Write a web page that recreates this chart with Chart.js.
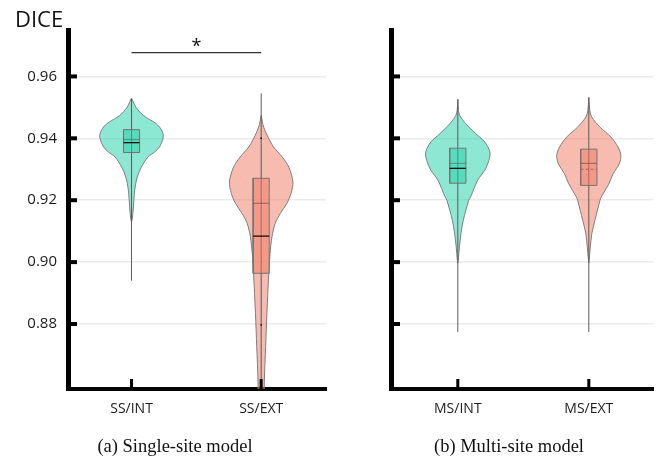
<!DOCTYPE html>
<html>
<head>
<meta charset="utf-8">
<script src="https://cdn.jsdelivr.net/npm/chart.js@4.4.1/dist/chart.umd.min.js"></script>
<style>
  body { margin: 0; background: #fff; }
  #wrap { position: relative; width: 662px; height: 460px; overflow: hidden; }
  canvas { position: absolute; top: 0; }
  #left { left: 0; }
  #right { left: 330px; }
  .ylab { position: absolute; left: 15px; top: 7px; font: 22px/22px "Open Sans", sans-serif; color: #111; }
  .cap { position: absolute; top: 435px; width: 240px; text-align: center; font: 18.5px/22px "Liberation Serif", serif; color: #111; }
</style>
</head>
<body>
<div id="wrap">
  <canvas id="left" width="330" height="460"></canvas>
  <canvas id="right" width="332" height="460"></canvas>
  <div class="ylab">DICE</div>
  <div class="cap" style="left:55px">(a) Single-site model</div>
  <div class="cap" style="left:389px">(b) Multi-site model</div>
</div>
<script>
// categories and tick values
const catsSingle = ['SS/INT', 'SS/EXT'];
const catsMulti = ['MS/INT', 'MS/EXT'];
const yTicks = [0.88, 0.90, 0.92, 0.94, 0.96];

// violin outlines: DICE value and relative density (1 = widest)
const ssIntY = [0.9530, 0.9510, 0.9500, 0.9474, 0.9447, 0.9428, 0.9410, 0.9395, 0.9372, 0.9355, 0.9340, 0.9307, 0.9275, 0.9232, 0.9178, 0.9140, 0.9130];
const ssIntD = [0, 0.09, 0.14, 0.37, 0.78, 0.94, 1.0, 0.98, 0.88, 0.72, 0.52, 0.31, 0.18, 0.10, 0.06, 0.025, 0];
const ssExtY = [0.9474, 0.9436, 0.9399, 0.9372, 0.9340, 0.9307, 0.9259, 0.9222, 0.9190, 0.9157, 0.9125, 0.9082, 0.9028, 0.8964, 0.8834, 0.8727, 0.8619, 0.8500, 0.8450];
const ssExtD = [0, 0.08, 0.24, 0.39, 0.66, 0.87, 1.0, 0.94, 0.81, 0.60, 0.44, 0.34, 0.28, 0.24, 0.18, 0.14, 0.10, 0.08, 0];
const msIntY = [0.9526, 0.9490, 0.9474, 0.9447, 0.9415, 0.9388, 0.9356, 0.9329, 0.9297, 0.9265, 0.9211, 0.9200, 0.9135, 0.9093, 0.9049, 0.9006, 0.8997];
const msIntD = [0, 0.02, 0.06, 0.25, 0.56, 0.84, 1.0, 0.97, 0.84, 0.62, 0.40, 0.34, 0.17, 0.10, 0.05, 0.015, 0];
const msExtY = [0.9532, 0.9490, 0.9469, 0.9436, 0.9404, 0.9372, 0.9345, 0.9318, 0.9286, 0.9254, 0.9211, 0.9200, 0.9135, 0.9093, 0.9049, 0.9006, 0.8997];
const msExtD = [0, 0.03, 0.09, 0.35, 0.69, 0.91, 1.0, 0.95, 0.76, 0.63, 0.39, 0.35, 0.19, 0.095, 0.047, 0.01, 0];

// box plot statistics, one value per category
const q1SS = [0.9354, 0.8964];
const q3SS = [0.9428, 0.9271];
const lineASS = [0.9386, 0.9084];
const lineBSS = [0.9396, 0.9190];
const whiskLoSS = [0.8940, 0.8450];
const whiskHiSS = [0.9528, 0.9545];
const q1MS = [0.9255, 0.9248];
const q3MS = [0.9368, 0.9365];
const lineAMS = [0.9303, 0.9319];
const lineBMS = [0.9319, 0.9300];
const whiskLoMS = [0.8774, 0.8774];
const whiskHiMS = [0.9526, 0.9532];

// small marks on the SS/EXT whisker
const marksSSExt = [0.9400, 0.8797];

// significance bracket between SS/INT and SS/EXT
const sigLevel = 0.9677;
const sigText = '*';

const VIOLIN_HALF = 0.245;
const BOX_HALF = 0.062;
const TEAL = 'rgba(27, 209, 167, 0.5)';
const SALMON = 'rgba(241, 119, 97, 0.5)';

Chart.defaults.font.family = "'Open Sans', sans-serif";
Chart.defaults.animation = false;

function violinPoints(c, ys, ds) {
  const right = ys.map((y, k) => ({ x: c + ds[k] * VIOLIN_HALF, y: y }));
  const left = ys.map((y, k) => ({ x: c - ds[k] * VIOLIN_HALF, y: y })).reverse();
  return right.concat(left);
}

function seg(points, color, width, order, dash) {
  return { data: points, showLine: true, fill: false, borderColor: color, borderWidth: width,
           borderDash: dash || [], pointRadius: 0, tension: 0, order: order };
}

function buildSets(violins, stats, lineStyles) {
  const sets = [];
  violins.forEach((v, i) => {
    sets.push({ data: violinPoints(i, v.y, v.d), showLine: true, fill: 'shape',
                backgroundColor: v.color, borderColor: '#7d7d7d', borderWidth: 1,
                pointRadius: 0, tension: 0.3, order: 6 });
    sets.push(seg([{ x: i, y: stats.lo[i] }, { x: i, y: stats.hi[i] }], '#5a5a5a', 1, 5));
    const a = i - BOX_HALF, b = i + BOX_HALF;
    sets.push({ data: [{ x: a, y: stats.q1[i] }, { x: b, y: stats.q1[i] }, { x: b, y: stats.q3[i] },
                       { x: a, y: stats.q3[i] }, { x: a, y: stats.q1[i] }],
                showLine: true, fill: 'shape', backgroundColor: v.color, borderColor: '#737373',
                borderWidth: 1, pointRadius: 0, tension: 0, order: 4 });
    const sa = lineStyles[i][0], sb = lineStyles[i][1];
    sets.push(seg([{ x: a, y: stats.lineB[i] }, { x: b, y: stats.lineB[i] }], sb.color, sb.width, 3, sb.dash));
    sets.push(seg([{ x: a, y: stats.lineA[i] }, { x: b, y: stats.lineA[i] }], sa.color, sa.width, 2, sa.dash));
  });
  return sets;
}

const inwardTicks = {
  id: 'inwardTicks',
  afterDraw(chart) {
    const { ctx, chartArea, scales } = chart;
    ctx.save();
    ctx.fillStyle = '#000';
    scales.y.ticks.forEach(t => {
      const py = scales.y.getPixelForValue(t.value);
      ctx.fillRect(chartArea.left, py - 2, 9, 4);
    });
    scales.x.ticks.forEach(t => {
      const px = scales.x.getPixelForValue(t.value);
      ctx.fillRect(px - 1.5, chartArea.bottom - 10, 3, 10);
    });
    const sig = chart.options.plugins.sigMark;
    if (sig && sig.text) {
      ctx.font = "18px 'Open Sans', sans-serif";
      ctx.textAlign = 'center';
      ctx.textBaseline = 'middle';
      ctx.fillStyle = '#111';
      ctx.fillText(sig.text, scales.x.getPixelForValue(0.5), scales.y.getPixelForValue(sig.level) - 6);
    }
    ctx.restore();
  }
};

function makeChart(id, cats, sets, opt) {
  return new Chart(document.getElementById(id), {
    type: 'scatter',
    data: { datasets: sets },
    plugins: [inwardTicks],
    options: {
      responsive: false,
      layout: { padding: { top: opt.top, right: opt.right, bottom: 0, left: 0 } },
      plugins: { legend: { display: false }, tooltip: { enabled: false },
                 sigMark: opt.sig || {} },
      scales: {
        x: {
          type: 'linear', min: opt.xmin, max: opt.xmax,
          afterBuildTicks: s => { s.ticks = cats.map((c, i) => ({ value: i })); },
          afterFit: s => { s.height = 71; },
          ticks: { callback: v => cats[v], color: '#1a1a1a', font: { size: 14 }, padding: 12, maxRotation: 0 },
          grid: { display: false, drawTicks: false },
          border: { display: true, color: '#000', width: 4 }
        },
        y: {
          type: 'linear', min: 0.859, max: 0.975,
          afterBuildTicks: s => { s.ticks = yTicks.map(v => ({ value: v })); },
          afterFit: s => { s.width = opt.yw; },
          ticks: { display: opt.labels, callback: v => v.toFixed(2), color: '#1a1a1a', font: { size: 15 }, padding: 11 },
          grid: { color: '#ebebeb', lineWidth: 1.5, drawTicks: false },
          border: { display: true, color: '#000', width: 5 }
        }
      }
    }
  });
}

const darkLine = { color: '#111', width: 1.3, dash: [] };
const greyLine = { color: 'rgba(80,80,80,0.45)', width: 1.2, dash: [] };
const greyDash = { color: 'rgba(120,70,60,0.6)', width: 1.2, dash: [3, 2] };
const brownLine = { color: 'rgba(120,70,60,0.6)', width: 1.2, dash: [] };

const singleSets = buildSets(
  [{ y: ssIntY, d: ssIntD, color: TEAL }, { y: ssExtY, d: ssExtD, color: SALMON }],
  { q1: q1SS, q3: q3SS, lineA: lineASS, lineB: lineBSS, lo: whiskLoSS, hi: whiskHiSS },
  [[darkLine, greyLine], [darkLine, brownLine]]
);
singleSets.push(seg([{ x: 0, y: sigLevel }, { x: 1, y: sigLevel }], '#333', 1.2, 1));
singleSets.push({ data: marksSSExt.map(v => ({ x: 1, y: v })), pointRadius: 1, pointStyle: 'rect',
                  backgroundColor: '#000', borderWidth: 0, order: 1 });

const multiSets = buildSets(
  [{ y: msIntY, d: msIntD, color: TEAL }, { y: msExtY, d: msExtD, color: SALMON }],
  { q1: q1MS, q3: q3MS, lineA: lineAMS, lineB: lineBMS, lo: whiskLoMS, hi: whiskHiMS },
  [[darkLine, greyLine], [brownLine, greyDash]]
);

makeChart('left', catsSingle, singleSets,
  { top: 30, right: 2, xmin: -0.49, xmax: 1.5, yw: 68, labels: true, sig: { level: sigLevel, text: sigText } });
makeChart('right', catsMulti, multiSets,
  { top: 30, right: 9, xmin: -0.51, xmax: 1.49, yw: 61, labels: false });
</script>
</body>
</html>
